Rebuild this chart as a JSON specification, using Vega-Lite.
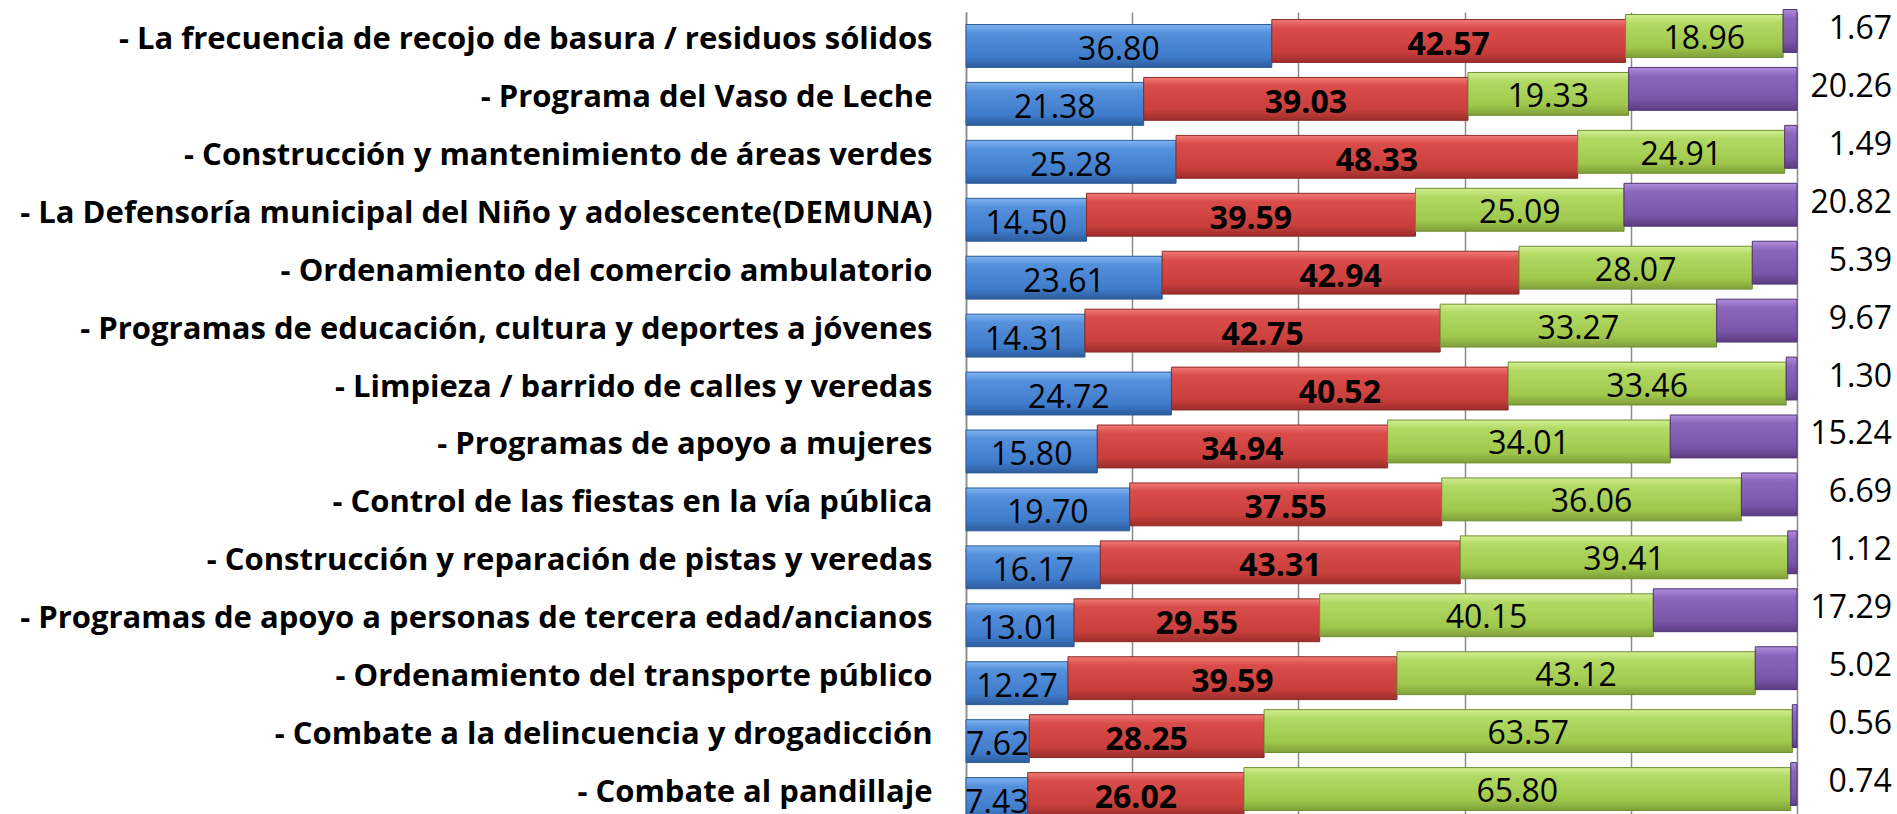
{
  "$schema": "https://vega.github.io/schema/vega-lite/v6.json",
  "width": 831,
  "height": 811,
  "autosize": {"type": "none"},
  "padding": {"left": 966, "top": 12, "right": 100, "bottom": 0},
  "background": "white",
  "config": {"view": {"stroke": null}},
  "data": {"values": [
    {"item": "- La frecuencia de recojo de basura / residuos sólidos", "serie": "Serie 1", "orden": 1, "valor": 36.80},
    {"item": "- La frecuencia de recojo de basura / residuos sólidos", "serie": "Serie 2", "orden": 2, "valor": 42.57},
    {"item": "- La frecuencia de recojo de basura / residuos sólidos", "serie": "Serie 3", "orden": 3, "valor": 18.96},
    {"item": "- La frecuencia de recojo de basura / residuos sólidos", "serie": "Serie 4", "orden": 4, "valor": 1.67},
    {"item": "- Programa del Vaso de Leche", "serie": "Serie 1", "orden": 1, "valor": 21.38},
    {"item": "- Programa del Vaso de Leche", "serie": "Serie 2", "orden": 2, "valor": 39.03},
    {"item": "- Programa del Vaso de Leche", "serie": "Serie 3", "orden": 3, "valor": 19.33},
    {"item": "- Programa del Vaso de Leche", "serie": "Serie 4", "orden": 4, "valor": 20.26},
    {"item": "- Construcción y mantenimiento de áreas verdes", "serie": "Serie 1", "orden": 1, "valor": 25.28},
    {"item": "- Construcción y mantenimiento de áreas verdes", "serie": "Serie 2", "orden": 2, "valor": 48.33},
    {"item": "- Construcción y mantenimiento de áreas verdes", "serie": "Serie 3", "orden": 3, "valor": 24.91},
    {"item": "- Construcción y mantenimiento de áreas verdes", "serie": "Serie 4", "orden": 4, "valor": 1.49},
    {"item": "- La Defensoría municipal del Niño y adolescente(DEMUNA)", "serie": "Serie 1", "orden": 1, "valor": 14.50},
    {"item": "- La Defensoría municipal del Niño y adolescente(DEMUNA)", "serie": "Serie 2", "orden": 2, "valor": 39.59},
    {"item": "- La Defensoría municipal del Niño y adolescente(DEMUNA)", "serie": "Serie 3", "orden": 3, "valor": 25.09},
    {"item": "- La Defensoría municipal del Niño y adolescente(DEMUNA)", "serie": "Serie 4", "orden": 4, "valor": 20.82},
    {"item": "- Ordenamiento del comercio ambulatorio", "serie": "Serie 1", "orden": 1, "valor": 23.61},
    {"item": "- Ordenamiento del comercio ambulatorio", "serie": "Serie 2", "orden": 2, "valor": 42.94},
    {"item": "- Ordenamiento del comercio ambulatorio", "serie": "Serie 3", "orden": 3, "valor": 28.07},
    {"item": "- Ordenamiento del comercio ambulatorio", "serie": "Serie 4", "orden": 4, "valor": 5.39},
    {"item": "- Programas de educación, cultura y deportes a jóvenes", "serie": "Serie 1", "orden": 1, "valor": 14.31},
    {"item": "- Programas de educación, cultura y deportes a jóvenes", "serie": "Serie 2", "orden": 2, "valor": 42.75},
    {"item": "- Programas de educación, cultura y deportes a jóvenes", "serie": "Serie 3", "orden": 3, "valor": 33.27},
    {"item": "- Programas de educación, cultura y deportes a jóvenes", "serie": "Serie 4", "orden": 4, "valor": 9.67},
    {"item": "- Limpieza / barrido de calles y veredas", "serie": "Serie 1", "orden": 1, "valor": 24.72},
    {"item": "- Limpieza / barrido de calles y veredas", "serie": "Serie 2", "orden": 2, "valor": 40.52},
    {"item": "- Limpieza / barrido de calles y veredas", "serie": "Serie 3", "orden": 3, "valor": 33.46},
    {"item": "- Limpieza / barrido de calles y veredas", "serie": "Serie 4", "orden": 4, "valor": 1.30},
    {"item": "- Programas de apoyo a mujeres", "serie": "Serie 1", "orden": 1, "valor": 15.80},
    {"item": "- Programas de apoyo a mujeres", "serie": "Serie 2", "orden": 2, "valor": 34.94},
    {"item": "- Programas de apoyo a mujeres", "serie": "Serie 3", "orden": 3, "valor": 34.01},
    {"item": "- Programas de apoyo a mujeres", "serie": "Serie 4", "orden": 4, "valor": 15.24},
    {"item": "- Control de las fiestas en la vía pública", "serie": "Serie 1", "orden": 1, "valor": 19.70},
    {"item": "- Control de las fiestas en la vía pública", "serie": "Serie 2", "orden": 2, "valor": 37.55},
    {"item": "- Control de las fiestas en la vía pública", "serie": "Serie 3", "orden": 3, "valor": 36.06},
    {"item": "- Control de las fiestas en la vía pública", "serie": "Serie 4", "orden": 4, "valor": 6.69},
    {"item": "- Construcción y reparación de pistas y veredas", "serie": "Serie 1", "orden": 1, "valor": 16.17},
    {"item": "- Construcción y reparación de pistas y veredas", "serie": "Serie 2", "orden": 2, "valor": 43.31},
    {"item": "- Construcción y reparación de pistas y veredas", "serie": "Serie 3", "orden": 3, "valor": 39.41},
    {"item": "- Construcción y reparación de pistas y veredas", "serie": "Serie 4", "orden": 4, "valor": 1.12},
    {"item": "- Programas de apoyo a personas de tercera edad/ancianos", "serie": "Serie 1", "orden": 1, "valor": 13.01},
    {"item": "- Programas de apoyo a personas de tercera edad/ancianos", "serie": "Serie 2", "orden": 2, "valor": 29.55},
    {"item": "- Programas de apoyo a personas de tercera edad/ancianos", "serie": "Serie 3", "orden": 3, "valor": 40.15},
    {"item": "- Programas de apoyo a personas de tercera edad/ancianos", "serie": "Serie 4", "orden": 4, "valor": 17.29},
    {"item": "- Ordenamiento del transporte público", "serie": "Serie 1", "orden": 1, "valor": 12.27},
    {"item": "- Ordenamiento del transporte público", "serie": "Serie 2", "orden": 2, "valor": 39.59},
    {"item": "- Ordenamiento del transporte público", "serie": "Serie 3", "orden": 3, "valor": 43.12},
    {"item": "- Ordenamiento del transporte público", "serie": "Serie 4", "orden": 4, "valor": 5.02},
    {"item": "- Combate a la delincuencia y drogadicción", "serie": "Serie 1", "orden": 1, "valor": 7.62},
    {"item": "- Combate a la delincuencia y drogadicción", "serie": "Serie 2", "orden": 2, "valor": 28.25},
    {"item": "- Combate a la delincuencia y drogadicción", "serie": "Serie 3", "orden": 3, "valor": 63.57},
    {"item": "- Combate a la delincuencia y drogadicción", "serie": "Serie 4", "orden": 4, "valor": 0.56},
    {"item": "- Combate al pandillaje", "serie": "Serie 1", "orden": 1, "valor": 7.43},
    {"item": "- Combate al pandillaje", "serie": "Serie 2", "orden": 2, "valor": 26.02},
    {"item": "- Combate al pandillaje", "serie": "Serie 3", "orden": 3, "valor": 65.80},
    {"item": "- Combate al pandillaje", "serie": "Serie 4", "orden": 4, "valor": 0.74}
  ]},
  "transform": [
    {"stack": "valor", "groupby": ["item"], "sort": [{"field": "orden", "order": "ascending"}], "as": ["x0", "x1"]}
  ],
  "encoding": {
    "y": {
      "field": "item", "type": "nominal",
      "sort": null,
      "scale": {"paddingInner": 0.26, "paddingOuter": 0.13},
      "axis": {"title": null, "labelFont": "Open Sans", "labelFontWeight": "bold", "labelFontSize": 31, "labelColor": "black", "labelLimit": 1200, "labelPadding": 34, "labelOffset": -1, "ticks": false, "domain": true, "domainColor": "#8c8c8c", "domainWidth": 1.5}
    }
  },
  "layer": [
    {
      "transform": [{"filter": "datum.orden == 1"}],
      "mark": {"type": "bar", "yOffset": 5, "stroke": "#2c5a96", "strokeWidth": 1,
        "color": {"gradient": "linear", "x1": 0, "y1": 0, "x2": 0, "y2": 1, "stops": [{"offset": 0, "color": "#7fb4f2"}, {"offset": 0.2, "color": "#5590dc"}, {"offset": 0.75, "color": "#3f7ccb"}, {"offset": 1, "color": "#2d5c9c"}]}},
      "encoding": {
        "x": {"field": "x0", "type": "quantitative", "scale": {"domain": [0, 100], "nice": false},
          "axis": {"title": null, "labels": false, "ticks": false, "domain": false, "grid": true, "gridColor": "#8c8c8c", "gridWidth": 1.5, "values": [0, 20, 40, 60, 80, 100]}},
        "x2": {"field": "x1"}
      }
    },
    {
      "transform": [{"filter": "datum.orden == 2"}],
      "mark": {"type": "bar", "yOffset": 0, "stroke": "#8e2a28", "strokeWidth": 1,
        "color": {"gradient": "linear", "x1": 0, "y1": 0, "x2": 0, "y2": 1, "stops": [{"offset": 0, "color": "#f07a76"}, {"offset": 0.2, "color": "#d94c49"}, {"offset": 0.75, "color": "#c93f3c"}, {"offset": 1, "color": "#9b2e2c"}]}},
      "encoding": {"x": {"field": "x0", "type": "quantitative"}, "x2": {"field": "x1"}}
    },
    {
      "transform": [{"filter": "datum.orden == 3"}],
      "mark": {"type": "bar", "yOffset": -5, "stroke": "#6f8f2e", "strokeWidth": 1,
        "color": {"gradient": "linear", "x1": 0, "y1": 0, "x2": 0, "y2": 1, "stops": [{"offset": 0, "color": "#d2ee92"}, {"offset": 0.2, "color": "#b2d964"}, {"offset": 0.75, "color": "#a0c84c"}, {"offset": 1, "color": "#7f9f3a"}]}},
      "encoding": {"x": {"field": "x0", "type": "quantitative"}, "x2": {"field": "x1"}}
    },
    {
      "transform": [{"filter": "datum.orden == 4"}],
      "mark": {"type": "bar", "yOffset": -10, "stroke": "#4e3474", "strokeWidth": 1,
        "color": {"gradient": "linear", "x1": 0, "y1": 0, "x2": 0, "y2": 1, "stops": [{"offset": 0, "color": "#b08ddc"}, {"offset": 0.2, "color": "#8c66bb"}, {"offset": 0.75, "color": "#7a55a8"}, {"offset": 1, "color": "#5a3d82"}]}},
      "encoding": {"x": {"field": "x0", "type": "quantitative"}, "x2": {"field": "x1"}}
    },
    {
      "transform": [{"filter": "datum.orden == 1"}],
      "mark": {"type": "text", "font": "Open Sans", "fontSize": 32, "color": "black", "dy": 9, "clip": true,
        "dx": {"expr": "(scale('x', datum.x1) - scale('x', datum.x0)) / 2"}},
      "encoding": {"x": {"field": "x0", "type": "quantitative"}, "text": {"field": "valor", "type": "quantitative", "format": ".2f"}}
    },
    {
      "transform": [{"filter": "datum.orden == 2"}],
      "mark": {"type": "text", "font": "Open Sans", "fontSize": 32, "fontWeight": "bold", "color": "black", "dy": 4,
        "dx": {"expr": "(scale('x', datum.x1) - scale('x', datum.x0)) / 2"}},
      "encoding": {"x": {"field": "x0", "type": "quantitative"}, "text": {"field": "valor", "type": "quantitative", "format": ".2f"}}
    },
    {
      "transform": [{"filter": "datum.orden == 3"}],
      "mark": {"type": "text", "font": "Open Sans", "fontSize": 32, "color": "black", "dy": -2,
        "dx": {"expr": "(scale('x', datum.x1) - scale('x', datum.x0)) / 2"}},
      "encoding": {"x": {"field": "x0", "type": "quantitative"}, "text": {"field": "valor", "type": "quantitative", "format": ".2f"}}
    },
    {
      "transform": [{"filter": "datum.orden == 4"}],
      "mark": {"type": "text", "font": "Open Sans", "fontSize": 32, "color": "black", "align": "right", "dx": 95, "dy": -12},
      "encoding": {"x": {"field": "x1", "type": "quantitative"}, "text": {"field": "valor", "type": "quantitative", "format": ".2f"}}
    }
  ]
}
